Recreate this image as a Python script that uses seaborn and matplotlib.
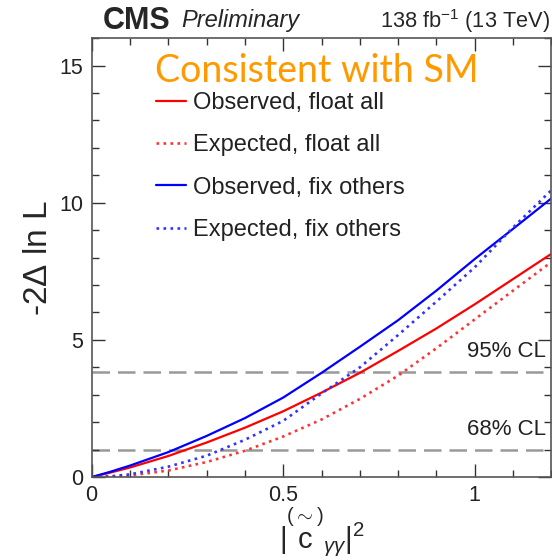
import numpy as np
import pandas as pd

import matplotlib
matplotlib.use('Agg')
import matplotlib.pyplot as plt
import seaborn as sns

# scan points
c2 = [0.0, 0.05, 0.1, 0.2, 0.3, 0.4, 0.5, 0.6, 0.7, 0.8, 0.9, 1.0, 1.1, 1.2]

obs_float = [0.0, 0.17, 0.35, 0.77, 1.26, 1.80, 2.40, 3.08, 3.80, 4.60, 5.42, 6.30, 7.22, 8.14]
exp_float = [0.0, 0.015, 0.06, 0.24, 0.55, 0.96, 1.48, 2.10, 2.85, 3.70, 4.70, 5.75, 6.80, 7.84]
obs_fix = [0.0, 0.20, 0.42, 0.91, 1.50, 2.15, 2.90, 3.80, 4.75, 5.72, 6.80, 7.95, 9.05, 10.16]
exp_fix = [0.0, 0.03, 0.10, 0.38, 0.78, 1.36, 2.05, 3.05, 4.00, 5.18, 6.40, 7.65, 9.10, 10.46]

labels = ['Observed, float all', 'Expected, float all',
          'Observed, fix others', 'Expected, fix others']
colors = ['#ff0000', '#ff3333', '#0000ff', '#3333ff']
styles = ['-', ':', '-', ':']

cl_levels = [1.0, 3.84]
cl_labels = ['68% CL', '95% CL']

sns.set_theme(style='ticks')
plt.rcParams['font.family'] = ['Liberation Sans', 'DejaVu Sans']
plt.rcParams['mathtext.fontset'] = 'custom'
plt.rcParams['mathtext.rm'] = 'Liberation Sans'
plt.rcParams['mathtext.it'] = 'Liberation Sans:italic'

fig = plt.figure(figsize=(5.52, 5.6), dpi=100)
ax = fig.add_axes([0.166, 0.148, 0.833, 0.784])

df = pd.DataFrame({
    'x': c2 * 4,
    'y': obs_float + exp_float + obs_fix + exp_fix,
    'curve': np.repeat(labels, len(c2)),
})

for lab, col, ls in zip(labels, colors, styles):
    sub = df[df['curve'] == lab]
    sns.lineplot(data=sub, x='x', y='y', ax=ax, color=col, linestyle=ls,
                 linewidth=1.6 if ls == '-' else 1.9, label=lab,
                 estimator=None, sort=False)

for lev, txt in zip(cl_levels, cl_labels):
    ax.axhline(lev, color='#999999', linewidth=1.8, dashes=(7, 3.2), zorder=0)
    ax.text(1.185, lev + 0.35, txt, ha='right', va='bottom', fontsize=16, color='#222222')

ax.set_xlim(0, 1.2)
ax.set_ylim(0, 16)

ax.set_xticks([0, 0.5, 1])
ax.set_xticklabels(['0', '0.5', '1'])
ax.set_yticks([0, 5, 10, 15])
ax.set_xticks(np.arange(0, 1.21, 0.1), minor=True)
ax.set_yticks(np.arange(0, 16.1, 1), minor=True)

ax.tick_params(which='both', direction='in', top=True, right=True,
               colors='#333333', labelcolor='#222222', labelsize=15.5)
ax.tick_params(which='major', length=9.5, width=1.0, pad=6)
ax.tick_params(which='minor', length=5, width=1.0)
for sp in ax.spines.values():
    sp.set_color('#555555')
    sp.set_linewidth(1.2)

ax.set_xlabel(r'$|\overset{(\sim)}{\mathrm{c}}_{\gamma\gamma}|^2$', fontsize=21, labelpad=-1)
ax.set_ylabel(r'-2$\Delta$ ln L', fontsize=24, labelpad=4)

leg = ax.legend(loc='upper left', bbox_to_anchor=(0.139, 0.877), frameon=False,
                fontsize=17, handlelength=1.27, handletextpad=0.3,
                labelspacing=0.86, borderpad=0, borderaxespad=0)
for t in leg.get_texts():
    t.set_color('#222222')

ax.text(0.138, 0.925, 'Consistent with SM', transform=ax.transAxes,
        fontsize=27, color='#ff9900', family=['Lato', 'DejaVu Sans'],
        ha='left', va='center')

fig.text(0.186, 0.9625, 'CMS', fontsize=22, fontweight='bold', ha='left', va='center')
fig.text(0.328, 0.9625, 'Preliminary', fontsize=17, style='italic', ha='left', va='center')
fig.text(0.997, 0.9625, r'138 fb$^{-1}$ (13 TeV)', fontsize=15.7, ha='right', va='center')

fig.savefig('out.png', dpi=100)
plt.close(fig)
